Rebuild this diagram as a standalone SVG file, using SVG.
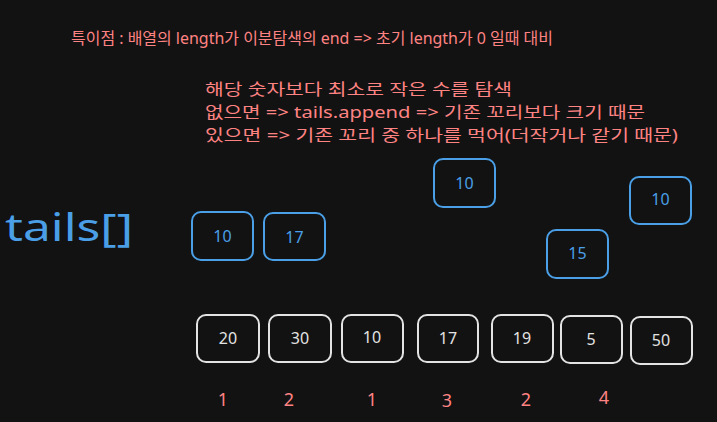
<svg xmlns="http://www.w3.org/2000/svg" width="717" height="422" viewBox="0 0 717 422">
<style>
.bg{fill:#121212}
.note{fill:#ff8383;font-family:"Noto Sans","Noto Sans CJK KR",sans-serif;font-size:16px}
.note1{font-size:15.5px}
.idx{fill:#ff8383;font-family:"Noto Sans",sans-serif;font-size:18px;text-anchor:middle}
.bbox{fill:none;stroke:#4a9fe6;stroke-width:2}
.wbox{fill:none;stroke:#e3e3e3;stroke-width:2}
.btxt{fill:#4a9fe6;font-family:"Noto Sans",sans-serif;font-size:16px;text-anchor:middle;dominant-baseline:central}
.wtxt{fill:#e3e3e3;font-family:"Noto Sans",sans-serif;font-size:16px;text-anchor:middle;dominant-baseline:central}
.title{fill:#4a9fe6;font-family:"Noto Sans",sans-serif;font-size:38px}
</style>
<rect class="bg" x="0" y="0" width="717" height="422"/>
<g id="notes">
<text class="note note1" x="71" y="44" textLength="482" lengthAdjust="spacingAndGlyphs">특이점 : 배열의 length가 이분탐색의 end =&gt; 초기 length가 0 일때 대비</text>
<text class="note" x="205" y="95" textLength="307" lengthAdjust="spacingAndGlyphs">해당 숫자보다 최소로 작은 수를 탐색</text>
<text class="note" x="205" y="118" textLength="440" lengthAdjust="spacingAndGlyphs">없으면 =&gt; tails.append =&gt; 기존 꼬리보다 크기 때문</text>
<text class="note" x="205" y="141" textLength="473" lengthAdjust="spacingAndGlyphs">있으면 =&gt; 기존 꼬리 중 하나를 먹어(더작거나 같기 때문)</text>
</g>
<g id="tails-label"><text class="title" x="5" y="241" textLength="128" lengthAdjust="spacingAndGlyphs">tails[]</text></g>
<g id="tail-10a"><rect class="bbox" x="192" y="212" width="61" height="48" rx="9"/><text class="btxt" x="222.5" y="236">10</text></g>
<g id="tail-17"><rect class="bbox" x="264" y="213" width="61" height="47" rx="9"/><text class="btxt" x="294.5" y="237">17</text></g>
<g id="tail-10b"><rect class="bbox" x="434" y="159" width="61" height="48" rx="9"/><text class="btxt" x="464.5" y="183">10</text></g>
<g id="tail-10c"><rect class="bbox" x="630" y="177" width="61" height="47" rx="9"/><text class="btxt" x="660.5" y="199">10</text></g>
<g id="tail-15"><rect class="bbox" x="547" y="230" width="61" height="48" rx="9"/><text class="btxt" x="577.5" y="253">15</text></g>
<g id="arr-20"><rect class="wbox" x="197" y="315" width="62" height="47" rx="9"/><text class="wtxt" x="228" y="338">20</text></g>
<g id="arr-30"><rect class="wbox" x="269" y="315" width="62" height="47" rx="9"/><text class="wtxt" x="300" y="338">30</text></g>
<g id="arr-10"><rect class="wbox" x="342" y="315" width="61" height="47" rx="9"/><text class="wtxt" x="372" y="337">10</text></g>
<g id="arr-17"><rect class="wbox" x="418" y="315" width="60" height="47" rx="9"/><text class="wtxt" x="448" y="338">17</text></g>
<g id="arr-19"><rect class="wbox" x="492" y="315" width="61" height="47" rx="9"/><text class="wtxt" x="522" y="338">19</text></g>
<g id="arr-5"><rect class="wbox" x="561" y="316" width="61" height="47" rx="9"/><text class="wtxt" x="591" y="339">5</text></g>
<g id="arr-50"><rect class="wbox" x="631" y="317" width="61" height="47" rx="9"/><text class="wtxt" x="661" y="340">50</text></g>
<g id="lengths">
<text class="idx" x="223" y="406">1</text>
<text class="idx" x="289" y="406">2</text>
<text class="idx" x="372" y="406">1</text>
<text class="idx" x="447" y="407">3</text>
<text class="idx" x="526" y="406">2</text>
<text class="idx" x="604" y="404">4</text>
</g>
</svg>
